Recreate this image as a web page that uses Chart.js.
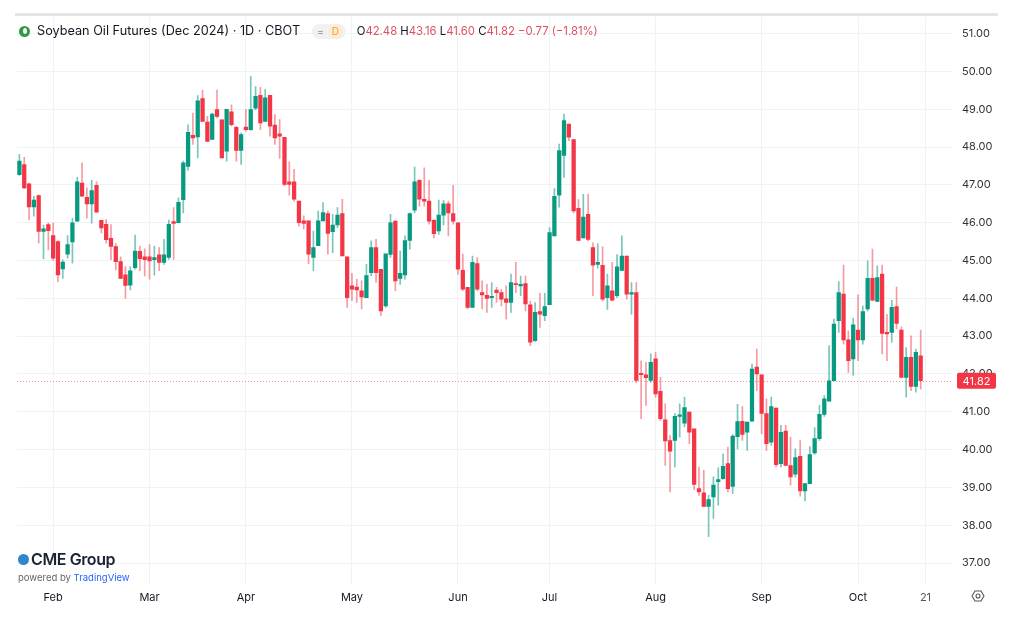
<!DOCTYPE html>
<html>
<head>
<meta charset="utf-8">
<script src="https://cdn.jsdelivr.net/npm/chart.js@4.4.1/dist/chart.umd.min.js"></script>
<style>
  html,body{margin:0;padding:0;background:#fff;}
  #wrap{position:relative;width:1024px;height:638px;overflow:hidden;font-family:Inter,"Noto Sans",Roboto,sans-serif;}
  #c{position:absolute;left:0;top:0;}
  #topline{position:absolute;left:15px;top:13px;width:983px;height:3px;background:#e3e4e8;}
  #hdr{position:absolute;left:19px;top:22px;height:18px;line-height:18px;white-space:nowrap;font-size:12.7px;color:#131722;display:flex;align-items:center;}
  #hdr .drop{display:inline-block;width:11px;height:11px;border-radius:50%;background:#2e9a45;margin-right:7px;position:relative;}
  #hdr .drop:after{content:"";position:absolute;left:3.5px;top:2.5px;width:4px;height:6px;border-radius:50% 50% 50% 50%/60% 60% 40% 40%;background:#fff;}
  #hdr .pill{display:inline-flex;align-items:center;margin-left:12px;height:15px;padding:0 3px 0 5px;border-radius:8px;background:#f0f1f3;font-size:10px;color:#888;}
  #hdr .pill .d{display:inline-block;margin-left:4px;width:15px;height:15px;line-height:15px;border-radius:50%;background:#fdebd2;color:#e8a33a;text-align:center;font-size:10px;}
  #hdr .ohlc{margin-left:11px;font-size:11.3px;color:#e0505f;}
  #hdr .ohlc b{font-weight:400;color:#131722;}
  #logo{position:absolute;left:18px;top:549px;}
  #logo .cme{display:flex;align-items:center;font-size:16px;font-weight:600;color:#1b2233;letter-spacing:-0.4px;}
  #logo .globe{display:inline-block;width:11px;height:11px;border-radius:50%;background:#2f86c8;margin-right:2px;}
  #logo .pw{font-size:9.5px;color:#666;margin-top:3px;}
  #logo .pw span{color:#2962ff;}
  #gear{position:absolute;left:971px;top:589px;}
</style>
</head>
<body>
<div id="wrap">
  <canvas id="c" width="1024" height="638"></canvas>
  <div id="topline"></div>
  <div id="hdr">
    <span class="drop"></span><span>Soybean Oil Futures (Dec 2024) · 1D · CBOT</span>
    <span class="pill">=<span class="d">D</span></span>
    <span class="ohlc"><b>O</b>42.48 <b>H</b>43.16 <b>L</b>41.60 <b>C</b>41.82 −0.77 (−1.81%)</span>
  </div>
  <div id="logo">
    <div class="cme"><span class="globe"></span>CME Group</div>
    <div class="pw">powered by <span>TradingView</span></div>
  </div>
  <svg id="gear" width="14" height="14" viewBox="0 0 14 14"><path d="M4 2 L10 2 L13 7 L10 12 L4 12 L1 7 Z" fill="none" stroke="#555" stroke-width="1.1"/><circle cx="7" cy="7" r="2" fill="none" stroke="#555" stroke-width="1.1"/></svg>
</div>
<script>
// ---- categories (trading days 2024) ----
const dates = ['01-23','01-24','01-25','01-26','01-29','01-30','01-31',
'02-01','02-02','02-05','02-06','02-07','02-08','02-09','02-12','02-13','02-14','02-15','02-16','02-20','02-21','02-22','02-23','02-26','02-27','02-28','02-29',
'03-01','03-04','03-05','03-06','03-07','03-08','03-11','03-12','03-13','03-14','03-15','03-18','03-19','03-20','03-21','03-22','03-25','03-26','03-27','03-28',
'04-01','04-02','04-03','04-04','04-05','04-08','04-09','04-10','04-11','04-12','04-15','04-16','04-17','04-18','04-19','04-22','04-23','04-24','04-25','04-26','04-29','04-30',
'05-01','05-02','05-03','05-06','05-07','05-08','05-09','05-10','05-13','05-14','05-15','05-16','05-17','05-20','05-21','05-22','05-23','05-24','05-28','05-29','05-30','05-31',
'06-03','06-04','06-05','06-06','06-07','06-10','06-11','06-12','06-13','06-14','06-17','06-18','06-20','06-21','06-24','06-25','06-26','06-27','06-28',
'07-01','07-02','07-03','07-05','07-08','07-09','07-10','07-11','07-12','07-15','07-16','07-17','07-18','07-19','07-22','07-23','07-24','07-25','07-26','07-29','07-30','07-31',
'08-01','08-02','08-05','08-06','08-07','08-08','08-09','08-12','08-13','08-14','08-15','08-16','08-19','08-20','08-21','08-22','08-23','08-26','08-27','08-28','08-29','08-30',
'09-03','09-04','09-05','09-06','09-09','09-10','09-11','09-12','09-13','09-16','09-17','09-18','09-19','09-20','09-23','09-24','09-25','09-26','09-27','09-30',
'10-01','10-02','10-03','10-04','10-07','10-08','10-09','10-10','10-11','10-14','10-15','10-16','10-17','10-18',
'10-21','10-22','10-23','10-24','10-25','10-28'];

// ---- OHLC series ----
const open = [47.27,47.54,47.03,46.42,46.72,45.77,45.95,45.66,45.50,44.78,45.17,45.49,46.04,47.05,46.67,46.50,46.99,46.06,45.96,45.59,45.37,44.97,44.62,44.35,44.81,45.24,45.10,
45.10,45.02,45.15,44.95,45.08,46.03,46.00,46.61,47.49,48.31,48.27,49.28,48.66,48.20,48.99,48.72,47.89,48.93,48.52,47.91,
48.53,48.46,49.03,49.37,48.68,49.37,48.58,48.35,48.26,47.08,47.08,46.57,46.05,46.05,45.08,45.39,46.05,46.24,45.76,45.94,46.24,45.10,
44.33,44.30,44.20,44.02,44.68,45.34,44.77,43.80,45.16,46.04,44.53,44.62,45.53,46.33,47.12,46.62,46.57,46.06,45.78,46.20,46.50,46.24,
46.00,44.74,44.29,43.76,44.92,44.15,44.08,44.02,44.22,44.15,43.99,43.89,44.39,44.33,44.39,43.83,42.88,43.65,43.54,
43.83,45.65,46.73,47.78,48.61,48.20,46.38,45.60,46.22,45.34,44.90,44.87,44.02,44.20,44.07,44.74,45.12,44.11,44.15,42.02,41.98,41.83,
42.40,41.54,40.79,40.24,40.24,40.88,40.70,40.99,40.55,38.97,38.86,38.50,38.75,39.15,39.23,39.63,39.03,40.34,40.75,40.46,40.75,42.18,
41.98,40.95,40.20,41.10,39.63,40.49,39.58,39.35,39.82,38.91,39.10,39.91,40.29,40.93,41.28,41.82,43.41,44.11,42.90,42.40,
43.16,42.90,43.72,44.53,43.92,44.64,43.10,43.10,43.78,43.16,41.91,42.44,41.67,42.48];
const high = [47.81,47.73,47.05,46.70,46.74,45.94,46.00,45.99,45.52,45.02,45.66,46.12,47.20,47.58,46.92,47.12,47.08,46.06,46.08,45.95,45.45,45.10,44.84,44.84,45.67,45.38,45.31,
45.42,45.38,45.34,45.56,46.07,46.40,46.66,47.63,48.59,48.90,49.36,49.50,48.81,48.90,49.51,48.72,49.00,49.12,48.55,48.37,
48.99,49.87,49.60,49.58,49.52,49.37,48.86,48.73,48.26,47.61,47.41,46.57,46.18,46.05,45.78,46.31,46.53,46.31,46.22,46.40,46.62,45.10,
44.66,44.50,44.46,44.90,45.52,45.56,44.77,45.18,46.22,46.04,45.25,45.65,46.26,47.47,47.14,47.45,47.12,46.08,46.60,46.59,46.57,46.99,
46.00,45.17,44.29,45.12,45.08,44.46,44.37,44.42,44.29,44.24,44.33,44.64,44.95,44.59,44.59,43.93,43.89,44.13,44.13,
45.87,46.90,48.08,48.87,48.61,48.20,46.61,46.75,46.75,45.47,45.44,45.36,44.64,44.95,45.16,45.65,45.12,44.42,44.42,42.35,42.31,42.53,
42.57,41.91,41.21,40.38,40.95,41.21,41.39,40.99,40.55,39.54,39.45,38.79,39.28,39.52,39.89,40.07,40.40,41.20,41.14,40.73,42.26,42.66,
41.98,41.34,41.39,41.10,40.64,40.64,40.33,40.02,40.24,39.10,40.08,40.58,41.17,41.43,42.75,43.45,44.44,44.88,43.14,43.48,
44.09,43.80,44.99,45.30,44.86,44.88,43.58,43.95,44.30,43.25,42.70,43.01,42.66,43.16];
const low = [47.25,46.90,46.08,46.17,45.46,45.04,45.28,45.00,44.44,44.53,45.06,44.93,46.04,46.70,46.12,45.99,46.28,45.73,45.46,45.02,44.75,44.53,44.00,44.22,44.77,44.73,44.59,
44.51,44.61,44.73,44.90,45.03,45.03,46.00,46.26,47.39,48.07,47.71,48.68,48.15,48.20,48.77,47.71,47.63,48.55,47.63,47.54,
48.42,48.44,48.99,48.46,48.68,48.29,48.07,47.70,46.97,46.73,46.57,45.91,45.83,44.92,44.73,45.39,46.05,45.17,45.21,45.87,45.12,43.76,
43.94,43.89,43.72,44.02,44.60,44.42,43.54,43.76,45.08,44.20,44.37,44.51,45.30,46.26,46.44,46.44,45.96,45.59,45.69,45.94,45.65,45.96,
44.64,44.20,43.72,43.76,44.20,43.72,43.63,43.76,43.89,43.80,43.45,43.63,44.15,44.07,43.67,42.75,42.86,43.23,43.41,
43.83,45.65,46.41,47.20,48.17,46.26,45.52,45.60,45.52,44.07,44.80,43.93,43.71,43.93,44.02,44.73,43.98,43.58,41.78,40.82,41.17,41.78,
41.39,40.77,39.58,38.88,39.54,40.33,40.60,40.16,38.94,38.79,38.49,37.70,38.18,38.53,39.21,38.88,38.84,40.02,40.24,39.98,40.75,41.56,
40.42,39.98,40.11,39.54,39.54,39.58,39.06,39.28,38.77,38.64,39.10,39.87,40.24,40.88,41.28,41.82,43.10,42.79,42.04,41.96,
42.35,42.79,43.67,43.93,43.92,42.53,42.35,42.84,43.19,41.91,41.39,41.56,41.52,41.60];
const close = [47.63,46.92,46.42,46.60,45.77,45.84,45.79,45.06,44.62,44.96,45.42,46.00,47.08,46.70,46.50,46.85,46.28,45.86,45.55,45.37,44.97,44.53,44.34,44.73,45.25,45.05,45.02,
44.99,45.08,44.95,45.15,45.96,45.98,46.54,47.58,48.39,48.24,49.22,48.68,48.15,48.87,48.81,47.71,49.00,48.59,47.91,48.33,
48.46,48.99,49.34,48.64,49.30,48.55,48.24,48.29,47.01,47.01,46.62,46.00,45.98,45.17,45.34,46.05,46.27,45.72,45.94,46.20,45.12,44.02,
44.24,44.22,44.04,44.60,45.34,44.68,43.67,45.18,46.00,44.46,44.66,45.53,46.24,47.08,46.62,46.57,46.04,45.71,46.20,46.50,46.26,46.04,
44.77,44.24,43.76,44.95,44.24,44.09,44.00,44.05,44.15,43.98,43.89,44.42,44.36,44.37,43.85,42.84,43.63,43.58,43.78,
45.74,46.70,47.91,48.70,48.26,46.31,45.53,46.15,45.56,44.88,44.95,43.98,44.33,43.95,44.83,45.12,44.11,44.15,41.83,41.98,41.90,42.31,
41.47,40.82,40.23,39.96,40.88,40.92,41.11,40.46,39.08,38.88,38.50,38.68,39.06,39.21,39.56,38.97,40.36,40.74,40.40,40.73,42.13,42.00,
40.96,40.16,41.14,39.60,40.46,39.58,39.28,39.79,38.91,39.10,39.87,40.29,40.93,41.34,41.82,43.32,44.15,42.90,42.35,43.30,
42.90,43.65,44.53,43.95,44.55,43.07,43.06,43.76,43.34,41.91,42.44,41.67,42.57,41.82];

// ---- axis tick labels ----
const tickDates = ['02-01','03-01','04-01','05-01','06-03','07-01','08-01','09-03','10-01','10-21'];
const tickLabels = ['Feb','Mar','Apr','May','Jun','Jul','Aug','Sep','Oct','21'];
const yTicks = [37,38,39,40,41,42,43,44,45,46,47,48,49,50,51];

const UP = '#089981', DOWN = '#F23645';
const UP_W = 'rgba(8,153,129,0.55)', DOWN_W = 'rgba(242,54,69,0.5)';

const bodies = open.map((o, i) => [o, close[i]]);
const wicks = low.map((l, i) => [l, high[i]]);
const isUp = open.map((o, i) => close[i] >= o);

const lastClose = close[close.length - 1];

const lastPricePlugin = {
  id: 'lastPrice',
  beforeDatasetsDraw(chart) {
    const {ctx, chartArea} = chart;
    const y = Math.round(chart.scales.y.getPixelForValue(lastClose)) + 0.5;
    ctx.save();
    ctx.strokeStyle = 'rgba(242,54,69,0.55)';
    ctx.lineWidth = 1;
    ctx.setLineDash([1, 2]);
    ctx.beginPath();
    ctx.moveTo(chartArea.left, y);
    ctx.lineTo(chartArea.right, y);
    ctx.stroke();
    ctx.restore();
  },
  afterDraw(chart) {
    const {ctx, chartArea} = chart;
    const y = chart.scales.y.getPixelForValue(lastClose);
    const x = chartArea.right + 5;
    ctx.save();
    ctx.fillStyle = '#F23645';
    ctx.beginPath();
    ctx.roundRect ? ctx.roundRect(x, y - 8, 39, 16, 2) : ctx.rect(x, y - 8, 39, 16);
    ctx.fill();
    ctx.fillStyle = '#fff';
    ctx.font = '11px Inter, "Noto Sans", sans-serif';
    ctx.textAlign = 'center';
    ctx.textBaseline = 'middle';
    ctx.fillText(lastClose.toFixed(2), x + 19.5, y + 0.5);
    ctx.restore();
  }
};

new Chart(document.getElementById('c'), {
  type: 'bar',
  data: {
    labels: dates,
    datasets: [
      {
        label: 'body',
        data: bodies,
        backgroundColor: isUp.map(u => u ? UP : DOWN),
        barThickness: 3.6,
        minBarLength: 1,
        grouped: false,
        order: 0,
        borderWidth: 0
      },
      {
        label: 'wick',
        data: wicks,
        backgroundColor: isUp.map(u => u ? UP_W : DOWN_W),
        barThickness: 1,
        grouped: false,
        order: 1,
        borderWidth: 0
      }
    ]
  },
  options: {
    responsive: false,
    animation: false,
    devicePixelRatio: 1,
    layout: { padding: { left: 17, right: 26, top: 15, bottom: 31 } },
    plugins: { legend: { display: false }, tooltip: { enabled: false } },
    scales: {
      x: {
        type: 'category',
        offset: true,
        border: { display: false },
        grid: { offset: false, color: '#f1f2f5', drawTicks: false, lineWidth: 1 },
        ticks: {
          autoSkip: false,
          maxRotation: 0,
          padding: 6,
          color: (ctx) => (ctx.tick && ctx.tick.label === '21') ? '#555' : '#131722',
          font: { family: 'Inter, "Noto Sans", sans-serif', size: 11 },
          callback: function (value) {
            const d = this.getLabelForValue(value);
            const k = tickDates.indexOf(d);
            return k >= 0 ? tickLabels[k] : null;
          }
        },
        afterFit: (s) => { s.height = 22; }
      },
      y: {
        position: 'right',
        min: 36.42,
        max: 51.45,
        border: { display: false },
        grid: { color: '#f1f2f5', drawTicks: false },
        afterBuildTicks: (s) => { s.ticks = yTicks.map(v => ({ value: v })); },
        afterFit: (s) => { s.width = 46; },
        ticks: {
          padding: 10,
          color: '#333',
          font: { family: 'Inter, "Noto Sans", sans-serif', size: 11 },
          callback: (v) => Number(v).toFixed(2)
        }
      }
    }
  },
  plugins: [lastPricePlugin]
});
</script>
</body>
</html>
